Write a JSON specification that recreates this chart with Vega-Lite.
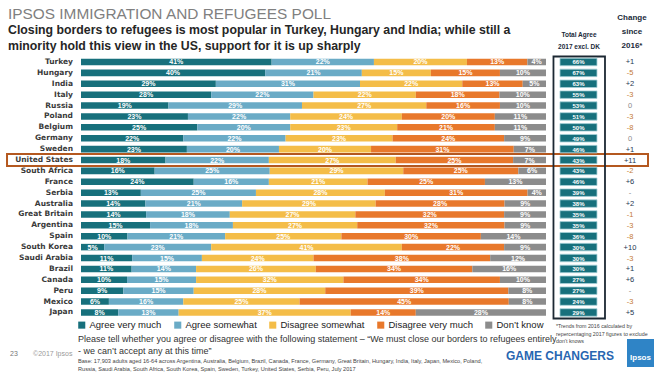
{
  "$schema": "https://vega.github.io/schema/vega-lite/v6.json",
  "width": 660,
  "height": 374,
  "autosize": {"type": "none"},
  "padding": 0,
  "background": "white",
  "config": {"view": {"stroke": null}},
  "data": {"values": [
    {"country": "Turkey", "Agree very much": 0.41, "Agree somewhat": 0.22, "Disagree somewhat": 0.20, "Disagree very much": 0.13, "Don’t know": 0.04, "total": 0.66, "change": "+1"},
    {"country": "Hungary", "Agree very much": 0.40, "Agree somewhat": 0.21, "Disagree somewhat": 0.15, "Disagree very much": 0.15, "Don’t know": 0.10, "total": 0.67, "change": "-5"},
    {"country": "India", "Agree very much": 0.29, "Agree somewhat": 0.31, "Disagree somewhat": 0.22, "Disagree very much": 0.13, "Don’t know": 0.05, "total": 0.63, "change": "+2"},
    {"country": "Italy", "Agree very much": 0.28, "Agree somewhat": 0.22, "Disagree somewhat": 0.22, "Disagree very much": 0.18, "Don’t know": 0.10, "total": 0.55, "change": "-3"},
    {"country": "Russia", "Agree very much": 0.19, "Agree somewhat": 0.29, "Disagree somewhat": 0.27, "Disagree very much": 0.16, "Don’t know": 0.10, "total": 0.53, "change": "0"},
    {"country": "Poland", "Agree very much": 0.23, "Agree somewhat": 0.22, "Disagree somewhat": 0.24, "Disagree very much": 0.20, "Don’t know": 0.11, "total": 0.51, "change": "-3"},
    {"country": "Belgium", "Agree very much": 0.25, "Agree somewhat": 0.20, "Disagree somewhat": 0.23, "Disagree very much": 0.21, "Don’t know": 0.11, "total": 0.50, "change": "-8"},
    {"country": "Germany", "Agree very much": 0.22, "Agree somewhat": 0.22, "Disagree somewhat": 0.23, "Disagree very much": 0.24, "Don’t know": 0.09, "total": 0.49, "change": "0"},
    {"country": "Sweden", "Agree very much": 0.23, "Agree somewhat": 0.20, "Disagree somewhat": 0.20, "Disagree very much": 0.31, "Don’t know": 0.07, "total": 0.46, "change": "+1"},
    {"country": "United States", "Agree very much": 0.18, "Agree somewhat": 0.22, "Disagree somewhat": 0.27, "Disagree very much": 0.25, "Don’t know": 0.07, "total": 0.43, "change": "+11"},
    {"country": "South Africa", "Agree very much": 0.16, "Agree somewhat": 0.25, "Disagree somewhat": 0.29, "Disagree very much": 0.25, "Don’t know": 0.06, "total": 0.43, "change": "-2"},
    {"country": "France", "Agree very much": 0.24, "Agree somewhat": 0.16, "Disagree somewhat": 0.21, "Disagree very much": 0.25, "Don’t know": 0.13, "total": 0.46, "change": "+6"},
    {"country": "Serbia", "Agree very much": 0.13, "Agree somewhat": 0.25, "Disagree somewhat": 0.28, "Disagree very much": 0.31, "Don’t know": 0.04, "total": 0.39, "change": "-"},
    {"country": "Australia", "Agree very much": 0.14, "Agree somewhat": 0.21, "Disagree somewhat": 0.29, "Disagree very much": 0.28, "Don’t know": 0.09, "total": 0.38, "change": "+2"},
    {"country": "Great Britain", "Agree very much": 0.14, "Agree somewhat": 0.18, "Disagree somewhat": 0.27, "Disagree very much": 0.32, "Don’t know": 0.09, "total": 0.35, "change": "-1"},
    {"country": "Argentina", "Agree very much": 0.15, "Agree somewhat": 0.18, "Disagree somewhat": 0.27, "Disagree very much": 0.32, "Don’t know": 0.09, "total": 0.35, "change": "-3"},
    {"country": "Spain", "Agree very much": 0.10, "Agree somewhat": 0.21, "Disagree somewhat": 0.25, "Disagree very much": 0.30, "Don’t know": 0.14, "total": 0.36, "change": "-8"},
    {"country": "South Korea", "Agree very much": 0.05, "Agree somewhat": 0.23, "Disagree somewhat": 0.41, "Disagree very much": 0.22, "Don’t know": 0.09, "total": 0.30, "change": "+10"},
    {"country": "Saudi Arabia", "Agree very much": 0.11, "Agree somewhat": 0.15, "Disagree somewhat": 0.24, "Disagree very much": 0.38, "Don’t know": 0.12, "total": 0.30, "change": "-3"},
    {"country": "Brazil", "Agree very much": 0.11, "Agree somewhat": 0.14, "Disagree somewhat": 0.26, "Disagree very much": 0.34, "Don’t know": 0.16, "total": 0.30, "change": "+1"},
    {"country": "Canada", "Agree very much": 0.10, "Agree somewhat": 0.15, "Disagree somewhat": 0.32, "Disagree very much": 0.34, "Don’t know": 0.10, "total": 0.27, "change": "+6"},
    {"country": "Peru", "Agree very much": 0.09, "Agree somewhat": 0.15, "Disagree somewhat": 0.28, "Disagree very much": 0.39, "Don’t know": 0.08, "total": 0.27, "change": "-"},
    {"country": "Mexico", "Agree very much": 0.06, "Agree somewhat": 0.16, "Disagree somewhat": 0.25, "Disagree very much": 0.45, "Don’t know": 0.08, "total": 0.24, "change": "-3"},
    {"country": "Japan", "Agree very much": 0.08, "Agree somewhat": 0.13, "Disagree somewhat": 0.37, "Disagree very much": 0.14, "Don’t know": 0.28, "total": 0.29, "change": "+5"}
  ]},
  "resolve": {"scale": {"color": "independent"}, "legend": {"color": "independent"}},
  "layer": [
    {
      "transform": [{"filter": "datum.country === 'United States'"}],
      "mark": {"type": "bar", "height": 12, "fill": "transparent", "stroke": "#b4581f", "strokeWidth": 2},
      "encoding": {
        "x": {"datum": -0.1591, "type": "quantitative", "scale": {"domain": [-0.1742, 1.2452], "nice": false, "zero": false}, "axis": null},
        "x2": {"datum": 1.2194},
        "y": {"field": "country", "type": "nominal", "axis": null, "scale": {"domain": ["Turkey","Hungary","India","Italy","Russia","Poland","Belgium","Germany","Sweden","United States","South Africa","France","Serbia","Australia","Great Britain","Argentina","Spain","South Korea","Saudi Arabia","Brazil","Canada","Peru","Mexico","Japan"], "range": [56.55, 317.9], "paddingInner": 0.4, "paddingOuter": 0.2}}
      }
    },
    {
      "data": {"values": [{}]},
      "mark": {"type": "rect", "fill": "transparent", "stroke": "#1c2833", "strokeWidth": 1.8},
      "encoding": {
        "x": {"datum": 1.0161, "type": "quantitative", "scale": {"domain": [-0.1742, 1.2452], "nice": false, "zero": false}, "axis": null},
        "x2": {"datum": 1.1269},
        "y": {"value": 56.5},
        "y2": {"value": 318.5}
      }
    },
    {
      "transform": [
        {"fold": ["Agree very much", "Agree somewhat", "Disagree somewhat", "Disagree very much", "Don’t know"], "as": ["category", "value"]},
        {"window": [{"op": "row_number", "as": "rank"}], "groupby": ["country"]}
      ],
      "mark": {"type": "bar"},
      "encoding": {
        "x": {"field": "value", "type": "quantitative", "stack": "normalize", "scale": {"domain": [-0.1742, 1.2452], "nice": false, "zero": false}, "axis": null},
        "y": {"field": "country", "type": "nominal", "axis": null, "scale": {"domain": ["Turkey","Hungary","India","Italy","Russia","Poland","Belgium","Germany","Sweden","United States","South Africa","France","Serbia","Australia","Great Britain","Argentina","Spain","South Korea","Saudi Arabia","Brazil","Canada","Peru","Mexico","Japan"], "range": [56.55, 317.9], "paddingInner": 0.4, "paddingOuter": 0.2}},
        "order": {"field": "rank", "type": "quantitative"},
        "color": {
          "field": "category", "type": "nominal",
          "sort": ["Agree very much", "Agree somewhat", "Disagree somewhat", "Disagree very much", "Don’t know"],
          "scale": {"domain": ["Agree very much", "Agree somewhat", "Disagree somewhat", "Disagree very much", "Don’t know"], "range": ["#17707c", "#6aabc6", "#f4bd48", "#e8782b", "#8c8c8c"]},
          "legend": {"orient": "none", "legendX": 77, "legendY": 320, "direction": "horizontal", "title": null, "symbolType": "square", "symbolSize": 50, "symbolStrokeWidth": 0, "labelFontSize": 9.5, "labelFont": "Liberation Sans, sans-serif", "labelColor": "#222222", "columnPadding": 11, "labelOffset": 3, "padding": 0}
        }
      }
    },
    {
      "transform": [
        {"fold": ["Agree very much", "Agree somewhat", "Disagree somewhat", "Disagree very much", "Don’t know"], "as": ["category", "value"]},
        {"window": [{"op": "row_number", "as": "rank"}], "groupby": ["country"]}
      ],
      "mark": {"type": "text", "fontSize": 7, "fontWeight": "bold", "font": "Liberation Sans, sans-serif", "baseline": "middle", "dy": 0.5},
      "encoding": {
        "x": {"field": "value", "type": "quantitative", "stack": "normalize", "bandPosition": 0.5, "scale": {"domain": [-0.1742, 1.2452], "nice": false, "zero": false}, "axis": null},
        "y": {"field": "country", "type": "nominal", "axis": null, "scale": {"domain": ["Turkey","Hungary","India","Italy","Russia","Poland","Belgium","Germany","Sweden","United States","South Africa","France","Serbia","Australia","Great Britain","Argentina","Spain","South Korea","Saudi Arabia","Brazil","Canada","Peru","Mexico","Japan"], "range": [56.55, 317.9], "paddingInner": 0.4, "paddingOuter": 0.2}},
        "order": {"field": "rank", "type": "quantitative"},
        "color": {
          "field": "category", "type": "nominal",
          "sort": ["Agree very much", "Agree somewhat", "Disagree somewhat", "Disagree very much", "Don’t know"],
          "scale": {"domain": ["Agree very much", "Agree somewhat", "Disagree somewhat", "Disagree very much", "Don’t know"], "range": ["#ffffff", "#ffffff", "#ffffff", "#ffffff", "#ffffff"]},
          "legend": null
        },
        "text": {"field": "value", "type": "quantitative", "format": ".0%"}
      }
    },
    {
      "mark": {"type": "text", "align": "right", "baseline": "middle", "fontSize": 7.5, "fontWeight": "bold", "font": "DejaVu Sans, sans-serif", "color": "#3a3a3a"},
      "encoding": {
        "x": {"datum": -0.0172, "type": "quantitative", "scale": {"domain": [-0.1742, 1.2452], "nice": false, "zero": false}, "axis": null},
        "y": {"field": "country", "type": "nominal", "axis": null, "scale": {"domain": ["Turkey","Hungary","India","Italy","Russia","Poland","Belgium","Germany","Sweden","United States","South Africa","France","Serbia","Australia","Great Britain","Argentina","Spain","South Korea","Saudi Arabia","Brazil","Canada","Peru","Mexico","Japan"], "range": [56.55, 317.9], "paddingInner": 0.4, "paddingOuter": 0.2}},
        "text": {"field": "country", "type": "nominal"}
      }
    },
    {
      "mark": {"type": "bar", "height": 7.5, "fill": "#17707c", "stroke": "#a8d2d9", "strokeWidth": 0.8},
      "encoding": {
        "x": {"datum": 1.0301, "type": "quantitative", "scale": {"domain": [-0.1742, 1.2452], "nice": false, "zero": false}, "axis": null},
        "x2": {"datum": 1.1097},
        "y": {"field": "country", "type": "nominal", "axis": null, "scale": {"domain": ["Turkey","Hungary","India","Italy","Russia","Poland","Belgium","Germany","Sweden","United States","South Africa","France","Serbia","Australia","Great Britain","Argentina","Spain","South Korea","Saudi Arabia","Brazil","Canada","Peru","Mexico","Japan"], "range": [56.55, 317.9], "paddingInner": 0.4, "paddingOuter": 0.2}}
      }
    },
    {
      "mark": {"type": "text", "baseline": "middle", "fontSize": 6, "fontWeight": "bold", "font": "Liberation Sans, sans-serif", "color": "#ffffff", "dy": 0.5},
      "encoding": {
        "x": {"datum": 1.0699, "type": "quantitative", "scale": {"domain": [-0.1742, 1.2452], "nice": false, "zero": false}, "axis": null},
        "y": {"field": "country", "type": "nominal", "axis": null, "scale": {"domain": ["Turkey","Hungary","India","Italy","Russia","Poland","Belgium","Germany","Sweden","United States","South Africa","France","Serbia","Australia","Great Britain","Argentina","Spain","South Korea","Saudi Arabia","Brazil","Canada","Peru","Mexico","Japan"], "range": [56.55, 317.9], "paddingInner": 0.4, "paddingOuter": 0.2}},
        "text": {"field": "total", "type": "quantitative", "format": ".0%"}
      }
    },
    {
      "mark": {"type": "text", "baseline": "middle", "fontSize": 7.5, "font": "Liberation Sans, sans-serif", "dy": 0.5},
      "encoding": {
        "x": {"datum": 1.1806, "type": "quantitative", "scale": {"domain": [-0.1742, 1.2452], "nice": false, "zero": false}, "axis": null},
        "y": {"field": "country", "type": "nominal", "axis": null, "scale": {"domain": ["Turkey","Hungary","India","Italy","Russia","Poland","Belgium","Germany","Sweden","United States","South Africa","France","Serbia","Australia","Great Britain","Argentina","Spain","South Korea","Saudi Arabia","Brazil","Canada","Peru","Mexico","Japan"], "range": [56.55, 317.9], "paddingInner": 0.4, "paddingOuter": 0.2}},
        "text": {"field": "change", "type": "nominal"},
        "color": {"condition": [{"test": "length(datum.change) > 1 && indexof(datum.change, '-') === 0", "value": "#c47a36"}, {"test": "datum.change === '0' || datum.change === '-'", "value": "#8a8a8a"}], "value": "#1e3650"}
      }
    },
    {
      "data": {"values": [{}]},
      "mark": {"type": "text", "text": "IPSOS IMMIGRATION AND REFUGEES POLL", "align": "left", "baseline": "alphabetic", "fontSize": 15.4, "font": "Liberation Sans, sans-serif", "color": "#808080"},
      "encoding": {"x": {"value": 8}, "y": {"value": 19}}
    },
    {
      "data": {"values": [{}]},
      "mark": {"type": "text", "text": ["Closing borders to refugees is most popular in Turkey, Hungary and India; while still a", "minority hold this view in the US, support for it is up sharply"], "align": "left", "baseline": "alphabetic", "lineHeight": 16, "fontSize": 12.3, "fontWeight": "bold", "font": "Liberation Sans, sans-serif", "color": "#262626"},
      "encoding": {"x": {"value": 8}, "y": {"value": 34}}
    },
    {
      "data": {"values": [{}]},
      "mark": {"type": "text", "text": ["Total Agree", "2017 excl. DK"], "align": "center", "baseline": "alphabetic", "lineHeight": 12, "fontSize": 6.5, "fontWeight": "bold", "font": "Liberation Sans, sans-serif", "color": "#1a2a3a"},
      "encoding": {"x": {"value": 579}, "y": {"value": 37}}
    },
    {
      "data": {"values": [{}]},
      "mark": {"type": "text", "text": ["Change", "since", "2016*"], "align": "center", "baseline": "alphabetic", "lineHeight": 14, "fontSize": 8, "fontWeight": "bold", "font": "Liberation Sans, sans-serif", "color": "#1a2a3a"},
      "encoding": {"x": {"value": 632}, "y": {"value": 20}}
    },
    {
      "data": {"values": [{}]},
      "mark": {"type": "text", "text": ["Please tell whether you agree or disagree with the following statement – “We must close our borders to refugees entirely", "- we can’t accept any at this time”"], "align": "left", "baseline": "alphabetic", "lineHeight": 12, "fontSize": 9, "font": "Liberation Sans, sans-serif", "color": "#333333"},
      "encoding": {"x": {"value": 78}, "y": {"value": 341.5}}
    },
    {
      "data": {"values": [{}]},
      "mark": {"type": "text", "text": ["Base: 17,903 adults aged 16-64 across  Argentina, Australia, Belgium, Brazil, Canada, France, Germany, Great Britain, Hungary, India, Italy, Japan, Mexico, Poland,", "Russia, Saudi Arabia, South Africa, South Korea, Spain, Sweden, Turkey, United States, Serbia, Peru, July 2017"], "align": "left", "baseline": "alphabetic", "lineHeight": 8, "fontSize": 5.6, "font": "Liberation Sans, sans-serif", "color": "#444444"},
      "encoding": {"x": {"value": 78}, "y": {"value": 363}}
    },
    {
      "data": {"values": [{}]},
      "mark": {"type": "text", "text": "23", "align": "left", "baseline": "alphabetic", "fontSize": 7, "font": "Liberation Sans, sans-serif", "color": "#777777"},
      "encoding": {"x": {"value": 10}, "y": {"value": 355.5}}
    },
    {
      "data": {"values": [{}]},
      "mark": {"type": "text", "text": "©2017 Ipsos", "align": "left", "baseline": "alphabetic", "fontSize": 7, "font": "Liberation Sans, sans-serif", "color": "#999999"},
      "encoding": {"x": {"value": 33}, "y": {"value": 355.5}}
    },
    {
      "data": {"values": [{}]},
      "mark": {"type": "text", "text": "GAME CHANGERS", "align": "left", "baseline": "alphabetic", "fontSize": 12, "fontWeight": "bold", "font": "Liberation Sans, sans-serif", "color": "#2866b1"},
      "encoding": {"x": {"value": 506}, "y": {"value": 360}}
    },
    {
      "data": {"values": [{}]},
      "mark": {"type": "text", "text": ["*Trends from 2016 calculated by", "repercentaging 2017 figures to exclude", "don’t knows"], "align": "left", "baseline": "alphabetic", "lineHeight": 7.5, "fontSize": 5.3, "font": "Liberation Sans, sans-serif", "color": "#444444"},
      "encoding": {"x": {"value": 556}, "y": {"value": 328}}
    },
    {
      "data": {"values": [{}]},
      "mark": {"type": "rect", "fill": "#2f84c6"},
      "encoding": {"x": {"value": 627}, "x2": {"value": 654}, "y": {"value": 339}, "y2": {"value": 367}}
    },
    {
      "data": {"values": [{}]},
      "mark": {"type": "text", "text": "Ipsos", "align": "center", "baseline": "alphabetic", "fontSize": 8, "fontWeight": "bold", "font": "Liberation Sans, sans-serif", "color": "#ffffff"},
      "encoding": {"x": {"value": 640.5}, "y": {"value": 360}}
    }
  ]
}
